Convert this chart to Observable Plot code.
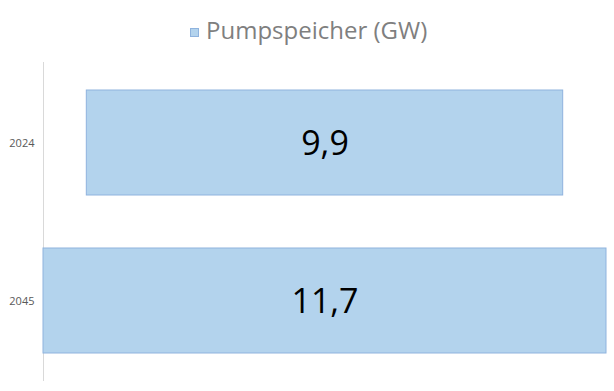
<!DOCTYPE html>
<html><head><meta charset="utf-8">
<script src="https://cdn.jsdelivr.net/npm/d3@7"></script>
<script src="https://cdn.jsdelivr.net/npm/@observablehq/plot@0.6"></script>
<style>
html,body{margin:0;padding:0;background:#fff;}
#wrap{position:relative;width:614px;height:391px;font-family:"Open Sans",sans-serif;}
#legend{position:absolute;left:0;top:0;width:614px;height:60px;}
#legend .sw{position:absolute;left:190px;top:28px;width:7px;height:7px;background:#b3d3ed;border:1px solid #8fb3de;}
#legend .tx{position:absolute;left:206px;top:13px;font-size:24px;color:#7f7f7f;line-height:34px;white-space:nowrap;}
#chart{position:absolute;left:0;top:60px;}
</style></head>
<body><div id="wrap"><div id="legend"><div class="sw"></div><div class="tx">Pumpspeicher (GW)</div></div><div id="chart"></div></div>
<script>
const years = ["2024", "2045"];
const values = [9.9, 11.7];
const seriesName = "Pumpspeicher (GW)";

const data = years.map((y, i) => ({year: y, value: values[i], label: String(values[i]).replace(".", ",")}));
const half = d3.max(values) / 2;

const plot = Plot.plot({
  width: 614,
  height: 331,
  marginTop: 2,
  marginBottom: 10,
  marginLeft: 43,
  marginRight: 8,
  style: {fontFamily: "Open Sans, sans-serif", background: "transparent"},
  x: {domain: [-half, half], axis: null},
  y: {domain: years, paddingInner: 0.333, paddingOuter: 0.17, label: null},
  marks: [
    Plot.ruleX([-half], {stroke: "#d9d9d9", strokeWidth: 1}),
    Plot.barX(data, {y: "year", x1: d => -d.value / 2, x2: d => d.value / 2, fill: "#b3d3ed", stroke: "#8fb3de", strokeWidth: 1}),
    Plot.text(data, {y: "year", x: 0, dy: 1, text: "label", fontSize: 34, fill: "#000"}),
    Plot.axisY({tickSize: 0, tickPadding: 9, fontSize: 11, color: "#595959", label: null})
  ]
});
document.getElementById("chart").appendChild(plot);
</script></body></html>
